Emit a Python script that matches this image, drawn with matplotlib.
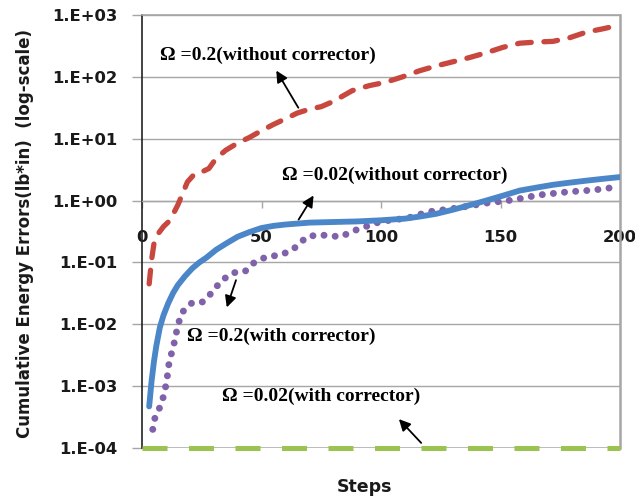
import numpy as np
import matplotlib.pyplot as plt
from matplotlib.ticker import FixedLocator, FixedFormatter

# (steps vs cumulative energy error, log scale)
red_steps = [3, 4, 5, 7, 9, 11, 13, 15, 17, 19, 22, 25, 28, 31, 35, 40, 45, 50, 55, 60,
             65, 70, 75, 80, 88, 95, 102, 109, 116, 123, 130, 137, 144, 151, 158, 165,
             172, 179, 186, 193, 200]
red_vals = [0.045, 0.11, 0.2, 0.3, 0.38, 0.45, 0.6, 0.85, 1.3, 2.0, 2.7, 2.9, 3.3, 4.8,
            6.5, 8.5, 10.5, 13.5, 17, 21, 26, 30, 33, 40, 60, 72, 82, 100, 125, 150,
            175, 205, 245, 300, 350, 365, 375, 430, 530, 600, 690]

blue_steps = [3, 4, 5, 6, 7.5, 9, 11, 13, 15, 18, 21, 24, 27, 31, 35, 40, 45, 50, 55,
              60, 70, 80, 90, 100, 110, 116, 123, 130, 137, 144, 151, 158, 165, 172,
              179, 186, 193, 200]
blue_vals = [0.00047, 0.0012, 0.0025, 0.0045, 0.009, 0.014, 0.022, 0.032, 0.043, 0.06,
             0.08, 0.1, 0.12, 0.16, 0.2, 0.26, 0.31, 0.36, 0.39, 0.41, 0.44, 0.45,
             0.46, 0.48, 0.51, 0.55, 0.61, 0.71, 0.84, 1.0, 1.2, 1.45, 1.62, 1.8,
             1.95, 2.1, 2.25, 2.4]

purple_steps = [4.5, 5.5, 8, 9.5, 10.5, 11.2, 12.5, 14, 14.8, 16.7, 21, 25.5, 29.7, 33,
                38, 43, 47, 52, 58, 63, 69, 74, 83, 90, 100, 111, 120, 132, 144, 155,
                166, 178, 189, 199]
purple_vals = [0.0002, 0.00032, 0.0005, 0.00081, 0.00135, 0.0022, 0.0036, 0.006, 0.0091,
               0.0155, 0.0224, 0.023, 0.034, 0.05, 0.068, 0.071, 0.1, 0.123, 0.132,
               0.16, 0.26, 0.28, 0.26, 0.34, 0.46, 0.52, 0.66, 0.76, 0.91, 1.02, 1.23,
               1.38, 1.48, 1.66]

green_steps = [0, 200]
green_vals = [1e-4, 1e-4]

ytick_vals = [1e-4, 1e-3, 1e-2, 1e-1, 1e0, 1e1, 1e2, 1e3]
ytick_labels = ['1.E-04', '1.E-03', '1.E-02', '1.E-01', '1.E+00', '1.E+01', '1.E+02', '1.E+03']
xtick_vals = [0, 50, 100, 150, 200]

RED = '#C8473F'
BLUE = '#4A86C8'
PURPLE = '#8062AA'
GREEN = '#9BC34F'
GRID = '#A6A6A6'

fig = plt.figure(figsize=(6.35, 5.0), dpi=100)
ax = fig.add_axes([142 / 635, 1 - 448 / 500, 478 / 635, 433 / 500])

ax.set_yscale('log')
ax.set_xlim(0, 200)
ax.set_ylim(1e-4, 1e3)

# horizontal gridlines at each decade
for v in ytick_vals:
    ax.axhline(v, color=GRID, lw=1.0 if v != 1e-4 else 1.8, zorder=1)

ax.plot(green_steps, green_vals, color=GREEN, lw=3.6, dashes=(5, 4.3), zorder=3,
        solid_capstyle='butt', dash_capstyle='butt', clip_on=False)
ax.plot(red_steps, red_vals, color=RED, lw=3.8, dashes=(2.6, 2.4), zorder=4,
        dash_capstyle='round')
ax.plot(purple_steps, purple_vals, color=PURPLE, lw=5.0, dashes=(0.01, 1.6), zorder=4,
        dash_capstyle='round')
ax.plot(blue_steps, blue_vals, color=BLUE, lw=4.2, zorder=5, solid_capstyle='round')

# spines
ax.spines['left'].set_color('#222222')
ax.spines['left'].set_linewidth(1.2)
ax.spines['top'].set_color(GRID)
ax.spines['right'].set_color(GRID)
ax.spines['top'].set_linewidth(1.2)
ax.spines['right'].set_linewidth(1.8)
ax.spines['bottom'].set_position(('data', 1))
ax.spines['bottom'].set_color(GRID)
ax.spines['bottom'].set_linewidth(1.0)

ax.yaxis.set_major_locator(FixedLocator(ytick_vals))
ax.yaxis.set_major_formatter(FixedFormatter(ytick_labels))
ax.yaxis.set_minor_locator(FixedLocator([]))
ax.set_xticks(xtick_vals)
ax.set_xticklabels([str(v) for v in xtick_vals])

ax.tick_params(axis='y', length=7, width=1.0, color=GRID, pad=11,
               labelsize=11.8, labelfontfamily='DejaVu Sans')
ax.tick_params(axis='x', length=5, width=1.0, color=GRID, pad=16,
               labelsize=11.8, labelfontfamily='DejaVu Sans')
for lab in ax.get_yticklabels() + ax.get_xticklabels():
    lab.set_fontweight('bold')
    lab.set_color('#1a1a1a')

fig.text(25 / 635, 1 - 234 / 500, 'Cumulative Energy Errors(lb*in)  (log-scale)',
         rotation=90, ha='center', va='center', fontsize=12, fontweight='bold',
         color='#1a1a1a')
fig.text(365 / 635, 1 - 487 / 500, 'Steps', ha='center', va='center',
         fontsize=12.5, fontweight='bold', color='#1a1a1a')

# annotations
serif = dict(family='Liberation Serif', fontweight='bold', fontsize=14, color='black',
             ha='left', va='center')
arrow = dict(arrowstyle='-|>', color='black', lw=1.3, mutation_scale=17)

ax.text(7.5, 224, '\u03a9 =0.2(without corrector)', **serif)
ax.annotate('', xy=(55.6, 138), xytext=(66, 29), arrowprops=arrow)

ax.text(58.6, 2.57, '\u03a9 =0.02(without corrector)', **serif)
ax.annotate('', xy=(72.4, 1.32), xytext=(64.9, 0.45), arrowprops=arrow)

ax.text(18.8, 0.0065, '\u03a9 =0.2(with corrector)', **serif)
ax.annotate('', xy=(35.1, 0.017), xytext=(39.7, 0.057), arrowprops=arrow)

ax.text(33.5, 0.00069, '\u03a9 =0.02(with corrector)', **serif)
ax.annotate('', xy=(106.7, 0.000316), xytext=(117.6, 0.000112), arrowprops=arrow)

fig.savefig('out.png', dpi=100)
